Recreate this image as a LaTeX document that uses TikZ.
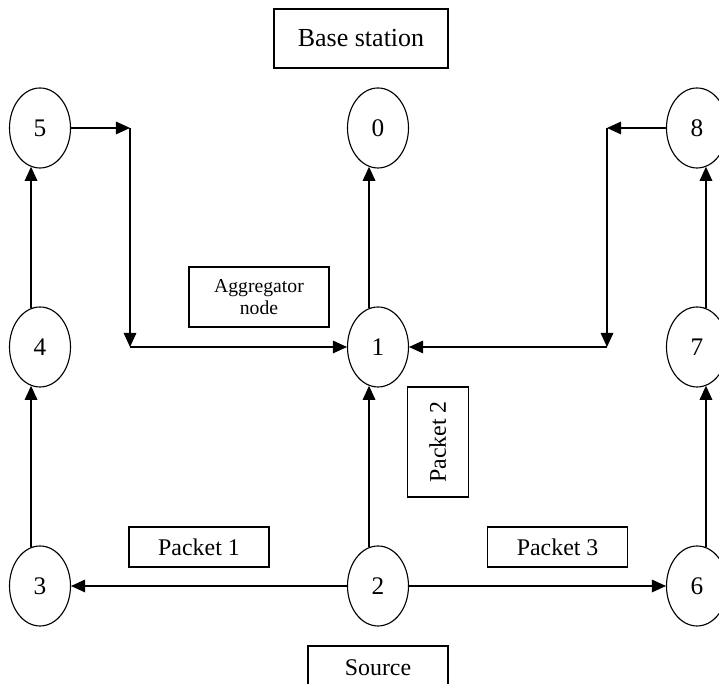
\documentclass[tikz,border=0pt]{standalone}
\usepackage{fontspec}
\setmainfont{Liberation Serif}
\usepackage{tikz}
\usetikzlibrary{positioning,calc,arrows.meta,shapes.geometric}

\begin{document}
\begin{tikzpicture}[
  sensor/.style={ellipse,draw,thick,inner sep=0pt,minimum width=1.525cm,minimum height=2cm,font=\fontsize{18}{20}\selectfont},
  tagbox/.style={rectangle,draw,thick,inner sep=0pt,font=\fontsize{17}{19}\selectfont},
  flow/.style={thick,-{Triangle[length=10pt,width=9pt]}}
]
\clip (0,0) rectangle (17.975,17.1);
% sensor nodes
\node[sensor] (n5) at (1.0,13.9) {5};
\node[sensor] (n0) at (9.45,13.9) {0};
\node[sensor] (n8) at (17.425,13.9) {8};
\node[sensor] (n4) at (1.0,8.425) {4};
\node[sensor] (n1) at (9.45,8.425) {1};
\node[sensor] (n7) at (17.425,8.425) {7};
\node[sensor] (n3) at (1.0,2.45) {3};
\node[sensor] (n2) at (9.45,2.45) {2};
\node[sensor] (n6) at (17.425,2.45) {6};
% labels
\node[tagbox,minimum width=4.35cm,minimum height=1.475cm,font=\fontsize{18.5}{20}\selectfont] (base) at (9.025,16.1375) {Base station};
\node[tagbox,minimum width=3.5cm,minimum height=1.5cm,align=center,font=\fontsize{14}{15.6}\selectfont] (agg) at (6.475,9.675) {Aggregator\\node};
\node[tagbox,minimum width=3.5cm,minimum height=1cm] (pk1) at (4.975,3.425) {Packet 1};
\node[tagbox,minimum width=3.5cm,minimum height=1cm] (pk3) at (13.94,3.425) {Packet 3};
\node[tagbox,minimum width=1.525cm,minimum height=2.75cm] (pk2) at (10.94,6.05) {\rotatebox{90}{Packet 2}};
\node[tagbox,minimum width=3.5cm,minimum height=1.1cm] (src) at (9.45,0.4) {Source};
% corners
\coordinate (c5) at (3.25,13.9);
\coordinate (c4) at (3.25,8.425);
\coordinate (c8) at (15.175,13.9);
\coordinate (c7) at (15.175,8.425);
% connectors
\draw[flow] (n2) -- (n3);
\draw[flow] (n2) -- (n6);
\draw[flow] (n2.103) -- (n1.257);
\draw[flow] (n1.103) -- (n0.257);
\draw[flow] (n3.103) -- (n4.257);
\draw[flow] (n4.103) -- (n5.257);
\draw[flow] (n6.77) -- (n7.283);
\draw[flow] (n7.77) -- (n8.283);
\draw[flow] (n5) -- (c5);
\draw[flow] (c5) -- (c4);
\draw[flow] (c4) -- (n1);
\draw[flow] (n8) -- (c8);
\draw[flow] (c8) -- (c7);
\draw[flow] (c7) -- (n1);
\end{tikzpicture}
\end{document}
